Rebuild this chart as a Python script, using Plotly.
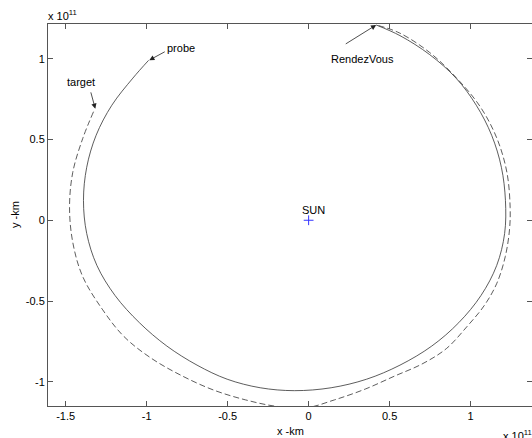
import plotly.graph_objects as go

# Values in units of 1e11 km (axes show "x 10^11")
probe_x = [-0.988, -1.085, -1.215, -1.312, -1.370, -1.390, -1.370, -1.307, -1.195, -1.045,
           -0.875, -0.689, -0.503, -0.299, -0.088, 0.139, 0.358, 0.564, 0.760, 0.927,
           1.064, 1.161, 1.210, 1.215, 1.190, 1.130, 1.035, 0.910, 0.748, 0.564, 0.417]
probe_y = [0.990, 0.880, 0.712, 0.526, 0.328, 0.123, -0.082, -0.280, -0.466, -0.634,
           -0.779, -0.897, -0.984, -1.037, -1.055, -1.037, -0.984, -0.897, -0.779, -0.634,
           -0.466, -0.280, -0.082, 0.123, 0.328, 0.526, 0.712, 0.880, 1.025, 1.143, 1.209]

target_x = [-1.328, -1.394, -1.456, -1.476, -1.456, -1.395, -1.271, -1.140, -0.975, -0.790,
            -0.590, -0.390, -0.200, -0.020, 0.160, 0.350, 0.530, 0.700, 0.850, 0.977,
            1.085, 1.162, 1.214, 1.240, 1.244, 1.224, 1.162, 1.058, 0.910, 0.748, 0.560, 0.417]
target_y = [0.672, 0.508, 0.297, 0.080, -0.137, -0.348, -0.555, -0.720, -0.852, -0.959,
            -1.050, -1.112, -1.152, -1.162, -1.112, -1.045, -0.965, -0.890, -0.795, -0.659,
            -0.527, -0.390, -0.225, -0.060, 0.080, 0.297, 0.508, 0.705, 0.884, 1.038, 1.160, 1.209]

sun_x = [0.0]
sun_y = [0.0]

x_ticks = [-1.5, -1, -0.5, 0, 0.5, 1]
x_tick_labels = ["-1.5", "-1", "-0.5", "0", "0.5", "1"]
y_ticks = [-1, -0.5, 0, 0.5, 1]
y_tick_labels = ["-1", "-0.5", "0", "0.5", "1"]

FONT = "Liberation Sans, Arial, Helvetica, sans-serif"
TXT = dict(family=FONT, size=11, color="black")

fig = go.Figure()
fig.add_trace(go.Scatter(x=target_x, y=target_y, mode="lines", line_shape="spline",
                         line=dict(color="#333", width=0.8, dash="6px,3px"),
                         showlegend=False, hoverinfo="skip"))
fig.add_trace(go.Scatter(x=probe_x, y=probe_y, mode="lines", line_shape="spline",
                         line=dict(color="#333", width=0.8),
                         showlegend=False, hoverinfo="skip"))
fig.add_trace(go.Scatter(x=sun_x, y=sun_y, mode="markers",
                         marker=dict(symbol="cross-thin", size=7,
                                     line=dict(color="#3333ff", width=1)),
                         showlegend=False, hoverinfo="skip"))

annots = []
def arrow(tx, ty, hx, hy):
    annots.append(dict(x=hx, y=hy, ax=tx, ay=ty, xref="x", yref="y", axref="x", ayref="y",
                       text="", showarrow=True, arrowhead=2, arrowsize=1.3, arrowwidth=0.8,
                       arrowcolor="#222"))

def label(x, y, t):
    annots.append(dict(x=x, y=y, xref="x", yref="y", text=t, showarrow=False, font=TXT))

arrow(-0.879, 1.048, -0.984, 0.991)
label(-0.786, 1.067, "probe")
arrow(-1.347, 0.801, -1.317, 0.690)
label(-1.404, 0.856, "target")
arrow(0.220, 1.086, 0.417, 1.209)
label(0.334, 0.999, "RendezVous")
label(0.028, 0.064, "SUN")

# exponent labels
annots.append(dict(xref="paper", yref="paper", x=0, y=1, xanchor="left", yanchor="bottom",
                   xshift=-2, yshift=0, text="x 10<sup>11</sup>", showarrow=False, font=TXT))
annots.append(dict(xref="paper", yref="paper", x=1, y=0, xanchor="left", yanchor="middle",
                   xshift=-31, yshift=-29, text="x 10<sup>11</sup>", showarrow=False, font=TXT))
# axis titles
annots.append(dict(xref="paper", yref="paper", x=0.5, y=0, xanchor="center", yanchor="middle",
                   yshift=-25, text="x -km", showarrow=False, font=TXT))
annots.append(dict(xref="paper", yref="paper", x=0, y=0.5, xanchor="center", yanchor="middle",
                   xshift=-33, text="y -km", textangle=-90, showarrow=False, font=TXT))

axis_common = dict(showgrid=False, zeroline=False, showline=True, linecolor="#555",
                   linewidth=1, mirror="ticks", ticks="inside", ticklen=5,
                   tickcolor="#555", tickfont=TXT, automargin=False)

fig.update_layout(
    width=532, height=438,
    margin=dict(l=48, r=0, t=24, b=32),
    paper_bgcolor="white", plot_bgcolor="white",
    annotations=annots,
    xaxis=dict(range=[-1.609, 1.379], tickvals=x_ticks, ticktext=x_tick_labels, **axis_common),
    yaxis=dict(range=[-1.150, 1.215], tickvals=y_ticks, ticktext=y_tick_labels, **axis_common),
)

fig.write_html("out.html", config={"displayModeBar": False},
               post_script="document.body.style.margin='0';document.body.style.overflow='hidden';")
